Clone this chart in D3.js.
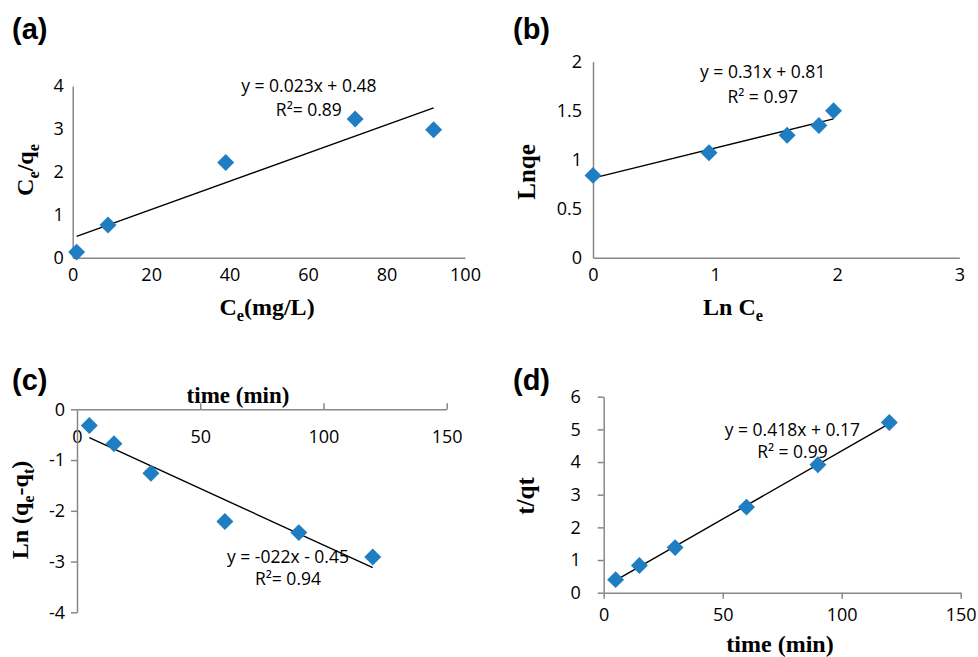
<!DOCTYPE html>
<html>
<head>
<meta charset="utf-8">
<script src="https://cdn.jsdelivr.net/npm/d3@7"></script>
<style>
html,body{margin:0;padding:0;background:#fff;}
svg{display:block;}
</style>
</head>
<body>
<svg id="chart" width="978" height="657"></svg>
<script>
// ---------- DATA ----------
// (a) Langmuir
const aX = [1, 9, 39, 72, 92];
const aY = [0.13, 0.76, 2.22, 3.23, 2.98];
const aXTicks = [0, 20, 40, 60, 80, 100];
const aYTicks = [0, 1, 2, 3, 4];
const aEq = ["y = 0.023x + 0.48", "R²= 0.89"];

// (b) Freundlich
const bX = [0, 0.95, 1.59, 1.85, 1.97];
const bY = [0.84, 1.07, 1.25, 1.35, 1.50];
const bXTicks = [0, 1, 2, 3];
const bYTicks = [0, 0.5, 1, 1.5, 2];
const bEq = ["y = 0.31x + 0.81", "R² = 0.97"];

// (c) pseudo-first-order
const cX = [5, 15, 30, 60, 90, 120];
const cY = [-0.32, -0.68, -1.26, -2.21, -2.43, -2.91];
const cXTicks = [0, 50, 100, 150];
const cYTicks = [0, -1, -2, -3, -4];
const cEq = ["y = -022x - 0.45", "R²= 0.94"];

// (d) pseudo-second-order
const dX = [5, 15, 30, 60, 90, 120];
const dY = [0.40, 0.83, 1.38, 2.62, 3.92, 5.21];
const dXTicks = [0, 50, 100, 150];
const dYTicks = [0, 1, 2, 3, 4, 5, 6];
const dEq = ["y = 0.418x + 0.17", "R² = 0.99"];

const panelLabels = ["(a)", "(b)", "(c)", "(d)"];

// ---------- STYLE ----------
const AXIS_COL = "#878787";
const MARK_COL = "#1f7dc2";
const TICK_FONT = "'Open Sans', sans-serif";
const TITLE_FONT = "'Liberation Serif', 'Times New Roman', serif";
const TICK_SIZE = 18;
const EQ_SIZE = 17.5;
const fmt = d => String(d);

const svg = d3.select("#chart");

function linreg(xs, ys) {
  const mx = d3.mean(xs), my = d3.mean(ys);
  let sxx = 0, sxy = 0;
  xs.forEach((x, i) => { sxx += (x - mx) * (x - mx); sxy += (x - mx) * (ys[i] - my); });
  const m = sxy / sxx;
  return { m, b: my - m * mx };
}

function styleAxis(g) {
  g.select(".domain").attr("stroke", AXIS_COL).attr("stroke-width", 1.5);
  g.selectAll(".tick line").attr("stroke", AXIS_COL).attr("stroke-width", 1.5);
  g.selectAll(".tick text").attr("fill", "#000").attr("font-family", TICK_FONT).attr("font-size", TICK_SIZE);
  g.attr("font-family", null).attr("font-size", null);
}

function drawPoints(g, xs, ys, x, y) {
  g.selectAll("path.pt").data(xs).enter().append("path")
    .attr("class", "pt")
    .attr("d", "M-6,-6H6V6H-6Z")
    .attr("transform", (d, i) => `translate(${x(d)},${y(ys[i])}) rotate(45)`)
    .attr("fill", MARK_COL);
}

function drawTrend(g, xs, ys, x, y) {
  const r = linreg(xs, ys);
  const x0 = d3.min(xs), x1 = d3.max(xs);
  g.append("line")
    .attr("x1", x(x0)).attr("y1", y(r.m * x0 + r.b))
    .attr("x2", x(x1)).attr("y2", y(r.m * x1 + r.b))
    .attr("stroke", "#000").attr("stroke-width", 1.4);
}

function drawEq(g, lines, x, y, pos) {
  lines.forEach((t, i) => {
    g.append("text")
      .attr("x", x(pos[i][0])).attr("y", y(pos[i][1]))
      .attr("text-anchor", "middle")
      .attr("font-family", TICK_FONT).attr("font-size", EQ_SIZE)
      .attr("fill", "#000")
      .text(t);
  });
}

function subTitle(sel, parts, size) {
  let prevSub = false;
  parts.forEach(([t, sub]) => {
    const ts = sel.append("tspan").text(t).attr("font-size", sub ? size * 0.68 : size);
    if (sub && !prevSub) ts.attr("dy", size * 0.25);
    if (!sub && prevSub) ts.attr("dy", -size * 0.25);
    prevSub = sub;
  });
}

function title(g, parts, xPos, yPos, size, rotate) {
  const t = g.append("text")
    .attr("transform", `translate(${xPos},${yPos})` + (rotate ? " rotate(-90)" : ""))
    .attr("text-anchor", "middle")
    .attr("font-family", TITLE_FONT).attr("font-weight", "bold")
    .attr("fill", "#000");
  subTitle(t, parts, size);
}

// ---------- PANEL A ----------
{
  const g = svg.append("g");
  const x = d3.scaleLinear().domain([0, 100]).range([72.7, 465]);
  const y = d3.scaleLinear().domain([0, 4]).range([257.7, 86]);
  const gx = g.append("g").attr("transform", `translate(0,${y(0)})`)
    .call(d3.axisBottom(x).tickValues(aXTicks).tickFormat(fmt).tickSize(0).tickPadding(11));
  styleAxis(gx);
  const gy = g.append("g").attr("transform", `translate(${x(0)},0)`)
    .call(d3.axisLeft(y).tickValues(aYTicks).tickFormat(fmt).tickSize(0).tickPadding(9));
  styleAxis(gy);
  drawTrend(g, aX, aY, x, y);
  drawPoints(g, aX, aY, x, y);
  drawEq(g, aEq, x, y, [[60.2, 3.86], [60.2, 3.29]]);
  title(g, [["C", false], ["e", true], ["(mg/L)", false]], 267, 315, 24, false);
  title(g, [["C", false], ["e", true], ["/q", false], ["e", true]], 33, 170, 24, true);
}

// ---------- PANEL B ----------
{
  const g = svg.append("g");
  const x = d3.scaleLinear().domain([0, 3]).range([593, 959.3]);
  const y = d3.scaleLinear().domain([0, 2]).range([257.7, 61.7]);
  const gx = g.append("g").attr("transform", `translate(0,${y(0)})`)
    .call(d3.axisBottom(x).tickValues(bXTicks).tickFormat(fmt).tickSize(0).tickPadding(11));
  styleAxis(gx);
  const gy = g.append("g").attr("transform", `translate(${x(0)},0)`)
    .call(d3.axisLeft(y).tickValues(bYTicks).tickFormat(fmt).tickSize(0).tickPadding(11));
  styleAxis(gy);
  drawTrend(g, bX, bY, x, y);
  drawPoints(g, bX, bY, x, y);
  drawEq(g, bEq, x, y, [[1.39, 1.834], [1.39, 1.579]]);
  title(g, [["Ln C", false], ["e", true]], 733, 315, 24, false);
  title(g, [["Lnqe", false]], 535, 172, 25, true);
}

// ---------- PANEL C ----------
{
  const g = svg.append("g");
  const x = d3.scaleLinear().domain([0, 150]).range([77, 446.7]);
  const y = d3.scaleLinear().domain([-4, 0]).range([612.3, 409.3]);
  const gx = g.append("g").attr("transform", `translate(0,${y(0)})`)
    .call(d3.axisBottom(x).tickValues(cXTicks).tickFormat(fmt).tickSizeInner(-6).tickSizeOuter(0).tickPadding(21));
  styleAxis(gx);
  gx.selectAll(".tick").filter(d => d === 0).select("line").remove();
  const gy = g.append("g").attr("transform", `translate(${x(0)},0)`)
    .call(d3.axisLeft(y).tickValues(cYTicks).tickFormat(fmt).tickSizeInner(6).tickSizeOuter(0).tickPadding(6));
  styleAxis(gy);
  drawTrend(g, cX, cY, x, y);
  drawPoints(g, cX, cY, x, y);
  drawEq(g, cEq, x, y, [[85.6, -3.02], [85.6, -3.46]]);
  title(g, [["time (min)", false]], 238, 403, 23, false);
  title(g, [["Ln (q", false], ["e", true], ["-q", false], ["t", true], [")", false]], 28, 510, 24, true);
}

// ---------- PANEL D ----------
{
  const g = svg.append("g");
  const x = d3.scaleLinear().domain([0, 150]).range([603.7, 960.7]);
  const y = d3.scaleLinear().domain([0, 6]).range([592.7, 396.7]);
  const gx = g.append("g").attr("transform", `translate(0,${y(0)})`)
    .call(d3.axisBottom(x).tickValues(dXTicks).tickFormat(fmt).tickSizeInner(6).tickSizeOuter(0).tickPadding(10));
  styleAxis(gx);
  const gy = g.append("g").attr("transform", `translate(${x(0)},0)`)
    .call(d3.axisLeft(y).tickValues(dYTicks).tickFormat(fmt).tickSizeInner(6).tickSizeOuter(0).tickPadding(17));
  styleAxis(gy);
  drawTrend(g, dX, dY, x, y);
  drawPoints(g, dX, dY, x, y);
  drawEq(g, dEq, x, y, [[79.3, 4.80], [79.3, 4.13]]);
  title(g, [["time (min)", false]], 780, 652, 24, false);
  title(g, [["t/qt", false]], 534, 496, 25, true);
}

// ---------- PANEL LABELS ----------
const labelPos = [[12, 39], [513, 39], [12, 390], [513, 390]];
svg.selectAll("text.plabel").data(panelLabels).enter().append("text")
  .attr("class", "plabel")
  .attr("x", (d, i) => labelPos[i][0]).attr("y", (d, i) => labelPos[i][1])
  .attr("font-family", "'Liberation Sans', Arial, sans-serif")
  .attr("font-weight", "bold").attr("font-size", 29)
  .attr("fill", "#000")
  .text(d => d);
</script>
</body>
</html>
